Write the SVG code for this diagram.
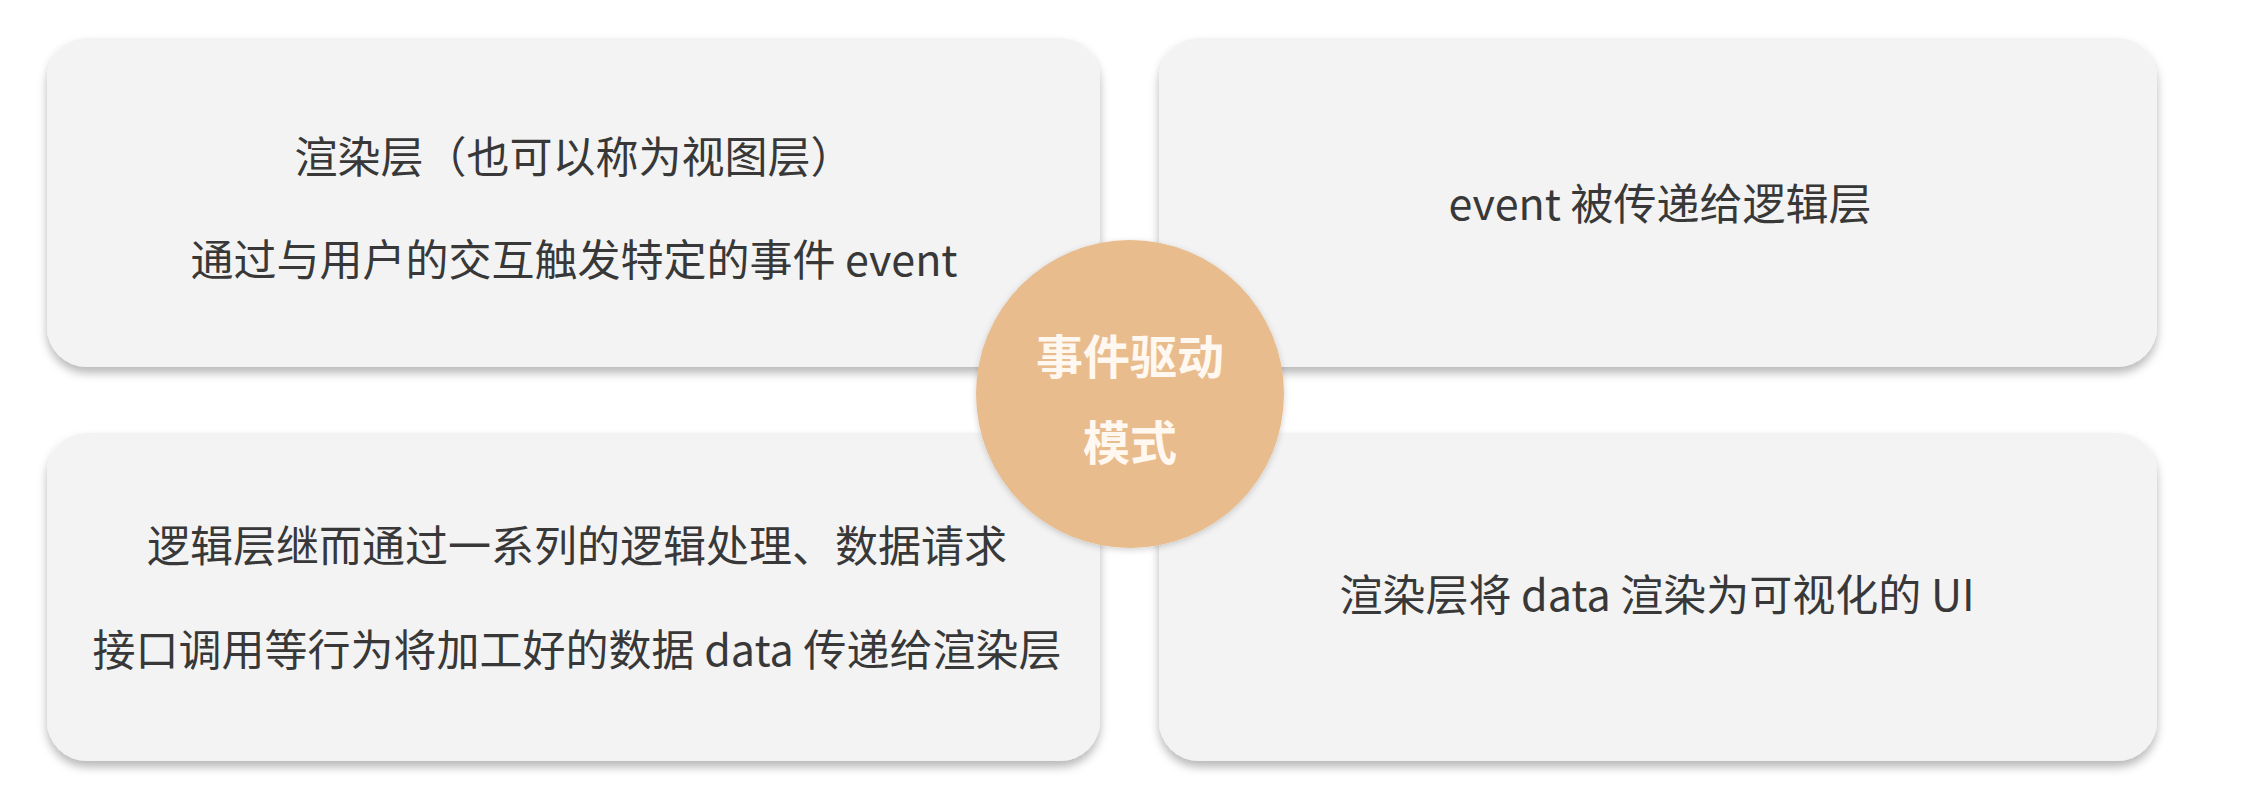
<svg xmlns="http://www.w3.org/2000/svg" width="2268" height="812" viewBox="0 0 2268 812">
  <defs>
    <filter id="shadow" x="-5%" y="-10%" width="110%" height="125%">
      <feDropShadow dx="0" dy="6" stdDeviation="5" flood-color="#000" flood-opacity="0.28"/>
    </filter>
    <filter id="cshadow" x="-10%" y="-10%" width="120%" height="120%">
      <feDropShadow dx="0" dy="2" stdDeviation="3" flood-color="#000" flood-opacity="0.18"/>
    </filter>
  </defs>
  <style>
    .box { fill: #f3f3f3; filter: url(#shadow); }
    .txt { font-family: "Noto Sans CJK SC", "Noto Sans", sans-serif; font-size: 43px; fill: #383838; text-anchor: middle; }
    .ctxt { font-family: "Noto Sans CJK SC", "Noto Sans", sans-serif; font-size: 47px; font-weight: bold; fill: #fff8f0; text-anchor: middle; }
  </style>
  <rect width="2268" height="812" fill="#ffffff"/>
  <g id="connectors"></g>
  <g id="node-top-left">
    <rect class="box" x="47" y="38" width="1053" height="329" rx="40" ry="40"/>
    <text class="txt" x="574" y="173">渲染层（也可以称为视图层）</text>
    <text class="txt" x="574" y="276">通过与用户的交互触发特定的事件 event</text>
  </g>
  <g id="node-top-right">
    <rect class="box" x="1159" y="38" width="998" height="329" rx="40" ry="40"/>
    <text class="txt" x="1660" y="220">event 被传递给逻辑层</text>
  </g>
  <g id="node-bottom-left">
    <rect class="box" x="47" y="433" width="1053" height="328" rx="40" ry="40"/>
    <text class="txt" x="577" y="562">逻辑层继而通过一系列的逻辑处理、数据请求</text>
    <text class="txt" x="577" y="666">接口调用等行为将加工好的数据 data 传递给渲染层</text>
  </g>
  <g id="node-bottom-right">
    <rect class="box" x="1159" y="433" width="998" height="328" rx="40" ry="40"/>
    <text class="txt" x="1657" y="611">渲染层将 data 渲染为可视化的 UI</text>
  </g>
  <g id="node-center">
    <circle cx="1130" cy="394" r="154" fill="#e9bc8e" filter="url(#cshadow)"/>
    <text class="ctxt" x="1130" y="374">事件驱动</text>
    <text class="ctxt" x="1130" y="460">模式</text>
  </g>
</svg>
